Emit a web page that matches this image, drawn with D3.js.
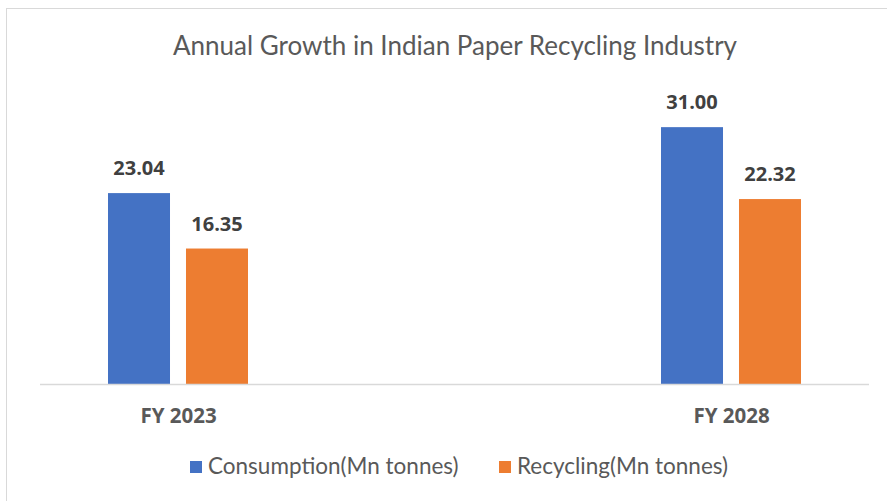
<!DOCTYPE html>
<html>
<head>
<meta charset="utf-8">
<script src="https://cdn.jsdelivr.net/npm/d3@7"></script>
<style>
  html, body { margin: 0; padding: 0; background: #ffffff; }
  svg { display: block; }
</style>
</head>
<body>
<svg id="chart" width="887" height="501"></svg>
<script>
// Chart data
const categories = ["FY 2023", "FY 2028"];
const seriesNames = ["Consumption(Mn tonnes)", "Recycling(Mn tonnes)"];
const consumption = [23.04, 31.00];
const recycling = [16.35, 22.32];
const seriesColors = ["#4472c4", "#ed7d31"];
const chartTitle = "Annual Growth in Indian Paper Recycling Industry";

const seriesValues = [consumption, recycling];
const rows = categories.map((c, i) => ({
  category: c,
  values: seriesNames.map((s, j) => ({ series: s, index: j, value: seriesValues[j][i] }))
}));

const svg = d3.select("#chart");
const W = 887, H = 501;

// Outer chart frame
svg.append("rect")
  .attr("x", 6.5).attr("y", 8.5)
  .attr("width", W + 20).attr("height", H + 20)
  .attr("fill", "#ffffff")
  .attr("stroke", "#d9d9d9").attr("stroke-width", 1);

const plot = { left: 40, right: 869, top: 94, bottom: 384 };

// Category centres and bars within each group
const x = d3.scalePoint().domain(categories).range([178, 731]);
const xInner = d3.scaleBand().domain(d3.range(seriesNames.length))
  .range([-70, 70]).paddingInner(0.205).paddingOuter(0);
const y = d3.scaleLinear().domain([0, 35]).range([plot.bottom, plot.top]);

// Title
svg.append("text")
  .attr("x", 455).attr("y", 55)
  .attr("text-anchor", "middle")
  .attr("font-family", "Lato, 'Open Sans', sans-serif")
  .attr("font-size", 26)
  .attr("fill", "#595959")
  .text(chartTitle);

// Bars
const groups = svg.selectAll("g.group").data(rows).join("g")
  .attr("class", "group")
  .attr("transform", d => `translate(${x(d.category)},0)`);

groups.selectAll("rect").data(d => d.values).join("rect")
  .attr("x", d => xInner(d.index))
  .attr("width", xInner.bandwidth())
  .attr("y", d => y(d.value))
  .attr("height", d => y(0) - y(d.value))
  .attr("fill", d => seriesColors[d.index]);

// Value labels
groups.selectAll("text.value").data(d => d.values).join("text")
  .attr("class", "value")
  .attr("x", d => xInner(d.index) + xInner.bandwidth() / 2)
  .attr("y", d => y(d.value) - 18)
  .attr("text-anchor", "middle")
  .attr("font-family", "'Open Sans', sans-serif")
  .attr("font-weight", "bold")
  .attr("font-size", 20)
  .attr("fill", "#404040")
  .text(d => d.value.toFixed(2));

// Baseline / category axis
const xAxis = d3.axisBottom(x).tickSize(0).tickPadding(24);
const axisG = svg.append("g")
  .attr("transform", `translate(0,${plot.bottom})`)
  .call(xAxis);
axisG.select(".domain").remove();
axisG.append("line")
  .attr("x1", plot.left).attr("x2", plot.right)
  .attr("y1", 0.5).attr("y2", 0.5)
  .attr("stroke", "#d9d9d9").attr("stroke-width", 1.5);
axisG.selectAll(".tick text")
  .attr("font-family", "'Open Sans', sans-serif")
  .attr("font-weight", "bold")
  .attr("font-size", 20.5)
  .attr("fill", "#595959");

// Legend
const legendItems = [
  { name: seriesNames[0], color: seriesColors[0], x: 190 },
  { name: seriesNames[1], color: seriesColors[1], x: 499 }
];
const legend = svg.selectAll("g.legend").data(legendItems).join("g")
  .attr("class", "legend")
  .attr("transform", d => `translate(${d.x},461)`);
legend.append("rect")
  .attr("width", 12).attr("height", 12)
  .attr("fill", d => d.color);
legend.append("text")
  .attr("x", 18).attr("y", 13)
  .attr("font-family", "Lato, 'Open Sans', sans-serif")
  .attr("font-size", 22.5)
  .attr("fill", "#595959")
  .text(d => d.name);
</script>
</body>
</html>
